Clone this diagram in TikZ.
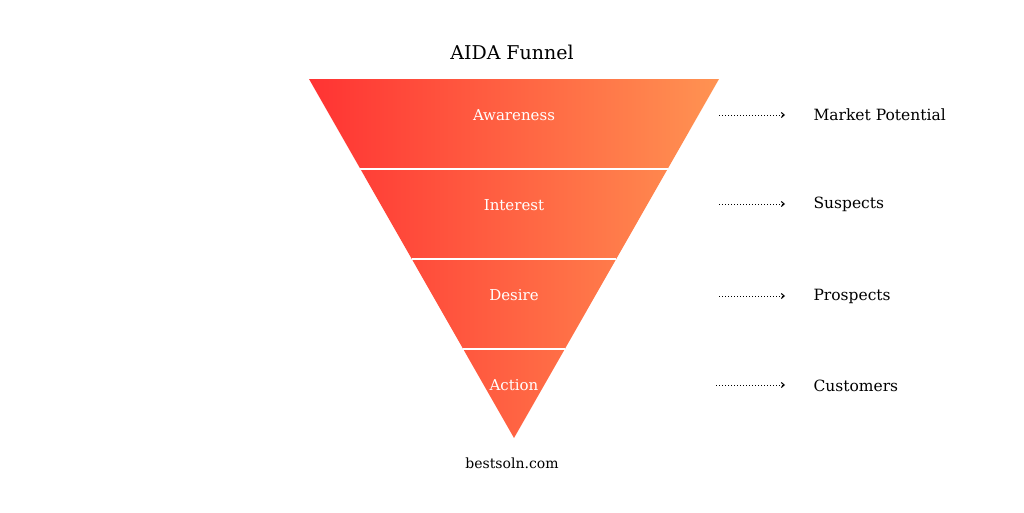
\documentclass[tikz,border=0pt]{standalone}
\usepackage{fontspec}
\setmainfont{DejaVu Serif}
\usetikzlibrary{arrows.meta}
\definecolor{fred}{HTML}{FF3333}
\definecolor{forange}{HTML}{FF9352}
\begin{document}
\begin{tikzpicture}[x=1pt,y=-1pt,
  band/.style={font=\fontsize{15}{17}\selectfont, text=white},
  lab/.style={font=\fontsize{15.5}{18}\selectfont, anchor=west, text=black},
  sep/.style={white, line width=1.5pt},
  dots/.style={dotted, line width=1pt, -{Straight Barb[length=3pt,width=5pt]}}]
\useasboundingbox (0,0) rectangle (1024,512);
\coordinate (tl) at (309,79);
\coordinate (tr) at (719,79);
\coordinate (ap) at (514,438);
\begin{scope}
\clip (tl) -- (tr) -- (ap) -- cycle;
\shade[left color=fred, right color=forange] (309,79) rectangle (719,438);
\end{scope}
\draw[sep] (360.4,169) -- (667.6,169);
\draw[sep] (411.8,259) -- (616.2,259);
\draw[sep] (463.2,349) -- (564.8,349);
\node[font=\fontsize{19}{22}\selectfont] (title) at (512,52) {AIDA Funnel};
\node[band] (aw) at (514,115) {Awareness};
\node[band] (in) at (514,205) {Interest};
\node[band] (de) at (514,295) {Desire};
\node[band] (ac) at (514,385) {Action};
\node[font=\fontsize{14}{16}\selectfont] (web) at (512,463) {bestsoln.com};
\node[lab] (m1) at (810,115) {Market Potential};
\node[lab] (m2) at (810,204) {Suspects};
\node[lab] (m3) at (810,296) {Prospects};
\node[lab] (m4) at (810,386) {Customers};
\coordinate (s1) at (719,115); \coordinate (e1) at (785,115);
\coordinate (s2) at (719,204); \coordinate (e2) at (785,204);
\coordinate (s3) at (719,296); \coordinate (e3) at (785,296);
\coordinate (s4) at (716,385); \coordinate (e4) at (785,385);
\draw[dots] (s1) -- (e1);
\draw[dots] (s2) -- (e2);
\draw[dots] (s3) -- (e3);
\draw[dots] (s4) -- (e4);
\end{tikzpicture}
\end{document}
